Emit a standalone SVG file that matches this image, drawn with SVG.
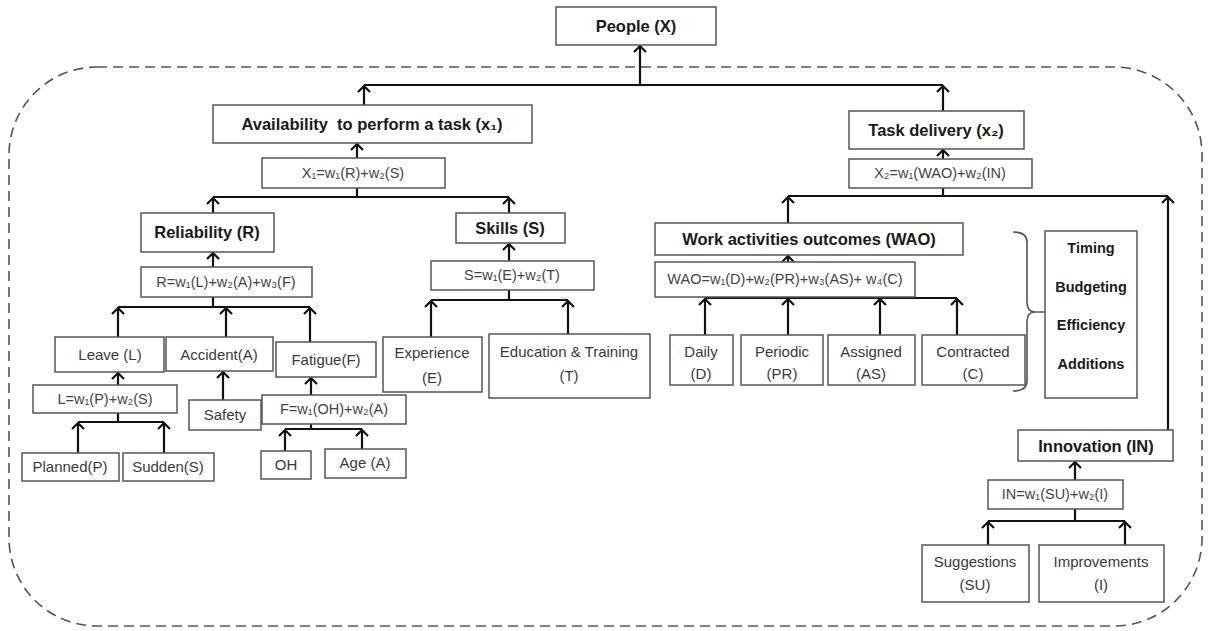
<svg xmlns="http://www.w3.org/2000/svg" width="1208" height="631" viewBox="0 0 1208 631">
<style>
.box{fill:#fff;stroke:#555;stroke-width:1.5}
.h{font-family:"Liberation Sans",Arial,sans-serif;font-weight:bold;font-size:16.5px;fill:#1a1a1a;text-anchor:middle}
.t{font-family:"Liberation Sans",Arial,sans-serif;font-size:15px;fill:#3a3a3a;text-anchor:middle}
.f{font-family:"Liberation Sans","DejaVu Sans",sans-serif;font-size:14.5px;fill:#444;text-anchor:middle}
.k{font-family:"Liberation Sans",Arial,sans-serif;font-weight:bold;font-size:14.5px;fill:#1a1a1a;text-anchor:middle}
.c{fill:none;stroke:#111;stroke-width:2.2}
.a{fill:none;stroke:#111;stroke-width:2.2;marker-end:url(#arr)}
</style>
<defs>
<marker id="arr" markerUnits="userSpaceOnUse" markerWidth="16" markerHeight="16" refX="8" refY="8" orient="auto" viewBox="0 0 16 16">
<path d="M2,2 L8,8 L2,14" fill="none" stroke="#111" stroke-width="2.2"/>
</marker>
</defs>
<rect x="9" y="67" width="1193" height="559" rx="88" ry="88" fill="none" stroke="#555" stroke-width="1.6" stroke-dasharray="10 6"/>

<g id="connectors">
<path class="a" d="M640,85 V46"/>
<path class="c" d="M364,85 H943"/>
<path class="a" d="M364,105 V86"/>
<path class="a" d="M943,111 V86"/>
<path class="a" d="M357,158 V144"/>
<path class="c" d="M357,188 V197 M213,197 H509"/>
<path class="a" d="M213,213 V198"/>
<path class="a" d="M509,213 V198"/>
<path class="a" d="M213,267 V253"/>
<path class="c" d="M213,297 V307 M118,307 H310"/>
<path class="a" d="M118,337 V308"/>
<path class="a" d="M226,337 V308"/>
<path class="a" d="M310,342 V308"/>
<path class="a" d="M118,385 V373"/>
<path class="c" d="M118,413 V422 M78,422 H164"/>
<path class="a" d="M78,453 V423"/>
<path class="a" d="M164,453 V423"/>
<path class="a" d="M223,400 V372"/>
<path class="a" d="M311,395 V378"/>
<path class="c" d="M311,424 V429 M285,429 H362"/>
<path class="a" d="M285,451 V430"/>
<path class="a" d="M362,449 V430"/>
<path class="a" d="M509,261 V244"/>
<path class="c" d="M509,290 V300 M431,300 H568"/>
<path class="a" d="M431,337 V301"/>
<path class="a" d="M568,334 V301"/>
<path class="a" d="M943,159 V150"/>
<path class="c" d="M943,188 V196 M788,196 H1168"/>
<path class="a" d="M788,223 V197"/>
<path class="a" d="M1168,430 V197"/>
<path class="a" d="M788,262 V256"/>
<path class="c" d="M705,298 H957"/>
<path class="a" d="M705,335 V299"/>
<path class="a" d="M788,335 V299"/>
<path class="a" d="M880,335 V299"/>
<path class="a" d="M957,335 V299"/>
<path class="a" d="M1075,480 V462"/>
<path class="c" d="M1075,509 V521 M988,521 H1125"/>
<path class="a" d="M988,545 V522"/>
<path class="a" d="M1125,545 V522"/>
<path d="M1013,232 Q1027,232 1027,242 V302 Q1027,312 1035,312 Q1027,312 1027,322 V381 Q1027,391 1013,391 M1035,312 H1045" fill="none" stroke="#555" stroke-width="1.6"/>
</g>

<g id="people"><rect class="box" x="556" y="7" width="160" height="38"/><text class="h" x="636" y="32">People (X)</text></g>
<g id="availability"><rect class="box" x="213" y="105" width="319" height="38"/><text class="h" x="372" y="130">Availability&#160; to perform a task (x₁)</text></g>
<g id="x1-formula"><rect class="box" x="262" y="158" width="183" height="30"/><text class="f" x="353" y="178">X₁=w₁(R)+w₂(S)</text></g>
<g id="task-delivery"><rect class="box" x="849" y="111" width="175" height="38"/><text class="h" x="936" y="136">Task delivery (x₂)</text></g>
<g id="x2-formula"><rect class="box" x="849" y="159" width="183" height="29"/><text class="f" x="940" y="178">X₂=w₁(WAO)+w₂(IN)</text></g>

<g id="reliability"><rect class="box" x="141" y="213" width="133" height="39"/><text class="h" x="207" y="238">Reliability (R)</text></g>
<g id="r-formula"><rect class="box" x="141" y="267" width="171" height="30"/><text class="f" x="226" y="287">R=w₁(L)+w₂(A)+w₃(F)</text></g>
<g id="leave"><rect class="box" x="55" y="337" width="109" height="35"/><text class="t" x="110" y="360">Leave (L)</text></g>
<g id="accident"><rect class="box" x="166" y="337" width="107" height="34"/><text class="t" x="219" y="360">Accident(A)</text></g>
<g id="fatigue"><rect class="box" x="276" y="342" width="100" height="35"/><text class="t" x="326" y="365">Fatigue(F)</text></g>
<g id="l-formula"><rect class="box" x="33" y="385" width="144" height="28"/><text class="f" x="105" y="404">L=w₁(P)+w₂(S)</text></g>
<g id="planned"><rect class="box" x="22" y="453" width="97" height="28"/><text class="t" x="70" y="472">Planned(P)</text></g>
<g id="sudden"><rect class="box" x="123" y="453" width="91" height="28"/><text class="t" x="168" y="472">Sudden(S)</text></g>
<g id="safety"><rect class="box" x="189" y="400" width="72" height="30"/><text class="t" x="225" y="420">Safety</text></g>
<g id="f-formula"><rect class="box" x="262" y="395" width="144" height="29"/><text class="f" x="334" y="414">F=w₁(OH)+w₂(A)</text></g>
<g id="oh"><rect class="box" x="261" y="451" width="50" height="28"/><text class="t" x="286" y="470">OH</text></g>
<g id="age"><rect class="box" x="325" y="449" width="81" height="29"/><text class="t" x="365" y="468">Age (A)</text></g>

<g id="skills"><rect class="box" x="456" y="213" width="109" height="30"/><text class="h" x="510" y="234">Skills (S)</text></g>
<g id="s-formula"><rect class="box" x="431" y="261" width="163" height="29"/><text class="f" x="512" y="280">S=w₁(E)+w₂(T)</text></g>
<g id="experience"><rect class="box" x="383" y="337" width="99" height="55"/><text class="t" x="432" y="358">Experience</text><text class="t" x="432" y="383">(E)</text></g>
<g id="education"><rect class="box" x="489" y="334" width="161" height="64"/><text class="t" x="569" y="357">Education &amp; Training</text><text class="t" x="569" y="381">(T)</text></g>

<g id="wao"><rect class="box" x="655" y="223" width="308" height="32"/><text class="h" x="809" y="245">Work activities outcomes (WAO)</text></g>
<g id="wao-formula"><rect class="box" x="655" y="262" width="260" height="35"/><text class="f" x="785" y="284">WAO=w₁(D)+w₂(PR)+w₃(AS)+ w₄(C)</text></g>
<g id="daily"><rect class="box" x="670" y="335" width="63" height="50"/><text class="t" x="701" y="357">Daily</text><text class="t" x="701" y="379">(D)</text></g>
<g id="periodic"><rect class="box" x="741" y="335" width="82" height="50"/><text class="t" x="782" y="357">Periodic</text><text class="t" x="782" y="379">(PR)</text></g>
<g id="assigned"><rect class="box" x="828" y="335" width="87" height="50"/><text class="t" x="871" y="357">Assigned</text><text class="t" x="871" y="379">(AS)</text></g>
<g id="contracted"><rect class="box" x="922" y="335" width="103" height="50"/><text class="t" x="973" y="357">Contracted</text><text class="t" x="973" y="379">(C)</text></g>
<g id="criteria"><rect class="box" x="1045" y="231" width="92" height="167"/><text class="k" x="1091" y="253">Timing</text><text class="k" x="1091" y="292">Budgeting</text><text class="k" x="1091" y="330">Efficiency</text><text class="k" x="1091" y="369">Additions</text></g>

<g id="innovation"><rect class="box" x="1018" y="430" width="155" height="31"/><text class="h" x="1096" y="452">Innovation (IN)</text></g>
<g id="in-formula"><rect class="box" x="988" y="480" width="135" height="29"/><text class="f" x="1055" y="499">IN=w₁(SU)+w₂(I)</text></g>
<g id="suggestions"><rect class="box" x="922" y="545" width="107" height="57"/><text class="t" x="975" y="567">Suggestions</text><text class="t" x="975" y="590">(SU)</text></g>
<g id="improvements"><rect class="box" x="1039" y="545" width="125" height="57"/><text class="t" x="1101" y="567">Improvements</text><text class="t" x="1101" y="590">(I)</text></g>
</svg>
